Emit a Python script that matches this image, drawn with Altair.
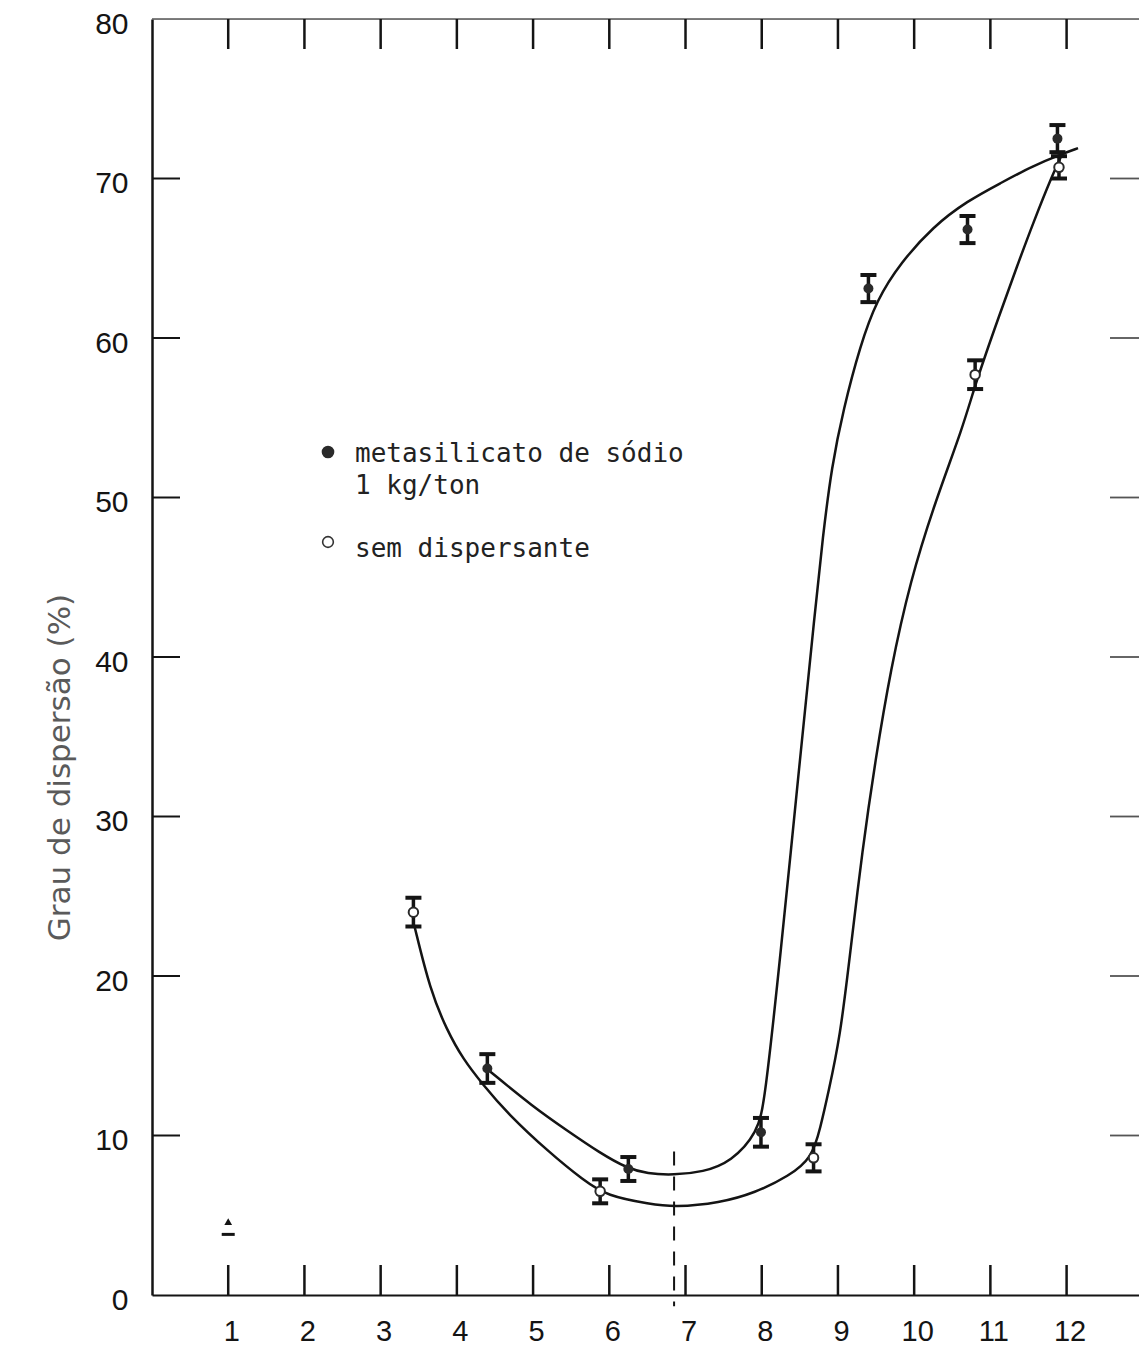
import altair as alt
import pandas as pd

# Grau de dispersão vs pH, com e sem metasilicato de sódio

# Pontos experimentais: metasilicato de sódio 1 kg/ton (símbolo cheio)
ph_meta = [4.40, 6.25, 7.99, 9.40, 10.70, 11.88]
grau_meta = [14.2, 7.9, 10.2, 63.1, 66.8, 72.5]
desvio_meta = [0.9, 0.75, 0.9, 0.85, 0.85, 0.85]

# Pontos experimentais: sem dispersante (símbolo vazio)
ph_sem = [3.43, 5.88, 8.68, 10.80, 11.90]
grau_sem = [24.0, 6.5, 8.6, 57.7, 70.7]
desvio_sem = [0.9, 0.75, 0.85, 0.9, 0.7]

# Medida isolada em pH 1
ph_isolado = [1.0]
grau_isolado_topo = [4.6]
grau_isolado_base = [3.8]

# Curvas ajustadas (traçadas à mão) — metasilicato
curva_meta_ph = [4.44, 5.00, 5.45, 5.88, 6.23, 6.50, 6.84, 7.23, 7.60,
                 7.95, 8.04, 8.24, 8.50, 8.70, 8.80, 8.92, 9.07, 9.29, 9.51,
                 9.82, 10.25, 10.70, 11.13, 11.56, 11.92, 12.15]
curva_meta_grau = [14.0, 11.8, 10.3, 8.9, 7.96, 7.6, 7.52, 7.71, 8.34,
                   10.2, 12.2, 21.0, 33.5, 42.9, 47.5, 52.0, 55.5, 59.5, 62.4,
                   64.7, 67.0, 68.6, 69.7, 70.8, 71.5, 71.9]

# Curvas ajustadas — sem dispersante
curva_sem_ph = [3.44, 3.65, 3.87, 4.08, 4.34, 4.66, 5.22, 5.66, 5.97,
                6.54, 6.85, 7.45, 7.91, 8.36, 8.66, 8.77, 8.87, 9.03, 9.16,
                9.32, 9.49, 9.69, 9.95, 10.28, 10.64, 10.80, 11.13,
                11.35, 11.56, 11.82, 11.94]
curva_sem_grau = [23.2, 19.1, 16.6, 14.8, 13.2, 11.4, 8.9, 7.2, 6.2,
                  5.7, 5.5, 5.77, 6.4, 7.46, 8.6, 10.5, 12.6, 16.2, 21.4,
                  27.9, 33.5, 39.2, 44.8, 49.8, 54.4, 57.1, 61.6,
                  64.5, 67.2, 70.3, 71.5]

# pH de referência (linha tracejada)
ph_referencia = [6.85]
grau_referencia_topo = [9.0]
grau_referencia_base = [-0.7]

# Escalas e marcações dos eixos
ticks_ph = list(range(1, 13))
ticks_grau = list(range(0, 81, 10))
ticks_grau_internos = list(range(10, 71, 10))

legenda_linhas = ["metasilicato de sódio", "1 kg/ton", "sem dispersante"]
titulo_y = "Grau de dispersão (%)"

W, H = 987, 1276
INK = "#141414"
NUM_FONT = "Liberation Sans, Arial, sans-serif"
TYPE_FONT = "DejaVu Sans Mono, Liberation Mono, monospace"

xs = alt.Scale(domain=[0, 12.95], nice=False, zero=False)
ys = alt.Scale(domain=[0, 80], nice=False, zero=False)

meta = pd.DataFrame({"ph": ph_meta, "grau": grau_meta,
                     "lo": [g - d for g, d in zip(grau_meta, desvio_meta)],
                     "hi": [g + d for g, d in zip(grau_meta, desvio_meta)]})
sem = pd.DataFrame({"ph": ph_sem, "grau": grau_sem,
                    "lo": [g - d for g, d in zip(grau_sem, desvio_sem)],
                    "hi": [g + d for g, d in zip(grau_sem, desvio_sem)]})
pontos = pd.concat([meta, sem], ignore_index=True)
extremos = pd.DataFrame({"ph": list(pontos["ph"]) * 2,
                         "g": list(pontos["lo"]) + list(pontos["hi"])})

c_meta = pd.DataFrame({"ph": curva_meta_ph, "grau": curva_meta_grau})
c_sem = pd.DataFrame({"ph": curva_sem_ph, "grau": curva_sem_grau})

X = lambda f="ph": alt.X(f"{f}:Q", scale=xs)
Y = lambda f="grau": alt.Y(f"{f}:Q", scale=ys)

# Eixos (rótulos e linhas de base)
eixos = alt.Chart(pd.DataFrame({"ph": [0.0], "grau": [0.0]})).mark_point(opacity=0).encode(
    x=alt.X("ph:Q", scale=xs, axis=alt.Axis(
        values=ticks_ph, format="d", title=None, tickSize=0, grid=False, labelPadding=22,
        labelFont=NUM_FONT, labelFontSize=29, labelColor=INK, labelBaseline="top",
        labelOffset=3, domainColor=INK, domainWidth=2)),
    y=alt.Y("grau:Q", scale=ys, axis=alt.Axis(
        values=ticks_grau, format="d", title=titulo_y, tickSize=0, grid=False,
        labelPadding=24, labelFont=NUM_FONT, labelFontSize=30, labelColor=INK,
        labelOffset=5, domainColor=INK, domainWidth=2.5,
        titleFont="DejaVu Sans", titleFontSize=31, titleFontWeight="normal",
        titleColor="#5a5a5a", titleAngle=270, titleAlign="center",
        titleBaseline="middle", titleX=-92, titleY=748)),
)

# Moldura superior
borda_topo = alt.Chart(pd.DataFrame({"grau": [80]})).mark_rule(
    color="#555", strokeWidth=1.5).encode(y=Y(), x=alt.value(0), x2=alt.value(W))

# Marcas internas dos eixos
df_tx = pd.DataFrame({"ph": ticks_ph})
df_ty = pd.DataFrame({"grau": ticks_grau_internos})
tick_base = alt.Chart(df_tx).mark_rule(color=INK, strokeWidth=2.5).encode(
    x=X(), y=alt.value(H), y2=alt.value(H - 30))
tick_topo = alt.Chart(df_tx).mark_rule(color=INK, strokeWidth=2.5).encode(
    x=X(), y=alt.value(0), y2=alt.value(30))
tick_esq = alt.Chart(df_ty).mark_rule(color=INK, strokeWidth=2).encode(
    y=Y(), x=alt.value(0), x2=alt.value(28))
tick_dir = alt.Chart(df_ty).mark_rule(color="#555", strokeWidth=1.8).encode(
    y=Y(), x=alt.value(W - 29), x2=alt.value(W))

# Linha tracejada de referência
ref = alt.Chart(pd.DataFrame({"ph": ph_referencia, "grau": grau_referencia_topo,
                              "g2": grau_referencia_base})).mark_rule(
    color=INK, strokeWidth=2, strokeDash=[14, 11]).encode(x=X(), y=Y(), y2="g2:Q")

# Curvas
linha_meta = alt.Chart(c_meta).mark_line(color=INK, strokeWidth=2.5,
                                         interpolate="basis").encode(x=X(), y=Y())
linha_sem = alt.Chart(c_sem).mark_line(color=INK, strokeWidth=2.5,
                                       interpolate="basis").encode(x=X(), y=Y())

# Barras de erro
barras = alt.Chart(pontos).mark_rule(color=INK, strokeWidth=3.5).encode(
    x=X(), y=Y("lo"), y2="hi:Q")
capas = alt.Chart(extremos).mark_tick(color=INK, orient="horizontal", size=16,
                                      thickness=4, opacity=1).encode(x=X(), y=Y("g"))

pts_meta = alt.Chart(meta).mark_point(filled=True, shape="circle", size=100,
                                      color="#2a2a2a", opacity=1).encode(x=X(), y=Y())
pts_sem = alt.Chart(sem).mark_point(filled=True, shape="circle", size=90, fill="white",
                                    stroke="#2a2a2a", strokeWidth=2, opacity=1).encode(x=X(), y=Y())

# Medida isolada em pH 1
iso = pd.DataFrame({"ph": ph_isolado, "topo": grau_isolado_topo, "base": grau_isolado_base})
iso_tri = alt.Chart(iso).mark_point(filled=True, shape="triangle-up", size=60,
                                    color=INK, opacity=1).encode(x=X(), y=Y("topo"))
iso_base = alt.Chart(iso).mark_tick(color=INK, orient="horizontal", size=13,
                                    thickness=3, opacity=1).encode(x=X(), y=Y("base"))

# Legenda escrita dentro do gráfico
leg = pd.DataFrame({"txt": legenda_linhas, "yy": [443, 475, 538]})
leg_txt = alt.Chart(leg).mark_text(align="left", baseline="alphabetic",
                                   font=TYPE_FONT, fontSize=26, color="#222").encode(
    text="txt:N", x=alt.value(203), y=alt.Y("yy:Q", scale=None))
leg_cheio = alt.Chart(pd.DataFrame({"k": [0]})).mark_point(
    filled=True, shape="circle", size=160, color="#2a2a2a", opacity=1).encode(
    x=alt.value(176), y=alt.value(433))
leg_vazio = alt.Chart(pd.DataFrame({"k": [0]})).mark_point(
    filled=False, shape="circle", size=115, color="#333", strokeWidth=1.6, opacity=1).encode(
    x=alt.value(176), y=alt.value(523))

chart = alt.layer(
    eixos, borda_topo, tick_base, tick_topo, tick_esq, tick_dir, ref,
    linha_sem, linha_meta, barras, capas, pts_meta, pts_sem,
    iso_tri, iso_base, leg_txt, leg_cheio, leg_vazio,
).properties(
    width=W, height=H,
    autosize=alt.AutoSizeParams(type="none"),
    padding={"left": 152, "top": 19, "right": 0, "bottom": 54},
).configure_view(stroke=None).configure(background="white")

chart.save("out.html", embed_options={"renderer": "svg", "actions": False})
